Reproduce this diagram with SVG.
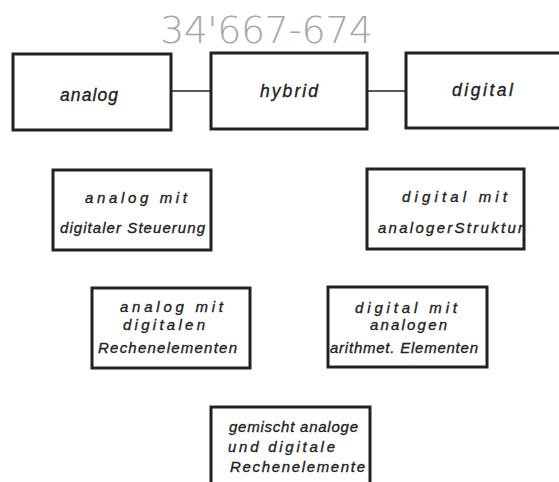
<svg xmlns="http://www.w3.org/2000/svg" width="559" height="482" viewBox="0 0 559 482">
<style>
.box{fill:#fff;stroke:#222;stroke-width:3}
.lbl{font-family:"Liberation Sans",Arial,sans-serif;font-style:italic;fill:#222;stroke:#222;stroke-width:0.35}
.big{font-size:17.5px}
.sm{font-size:15px}
.conn{stroke:#222;stroke-width:1.6;fill:none}
.note{font-family:"DejaVu Sans",sans-serif;font-size:38px;font-weight:300;fill:#a8a8a8}
</style>
<rect width="559" height="482" fill="#fff"/>
<text class="note" x="160" y="43" textLength="213" lengthAdjust="spacing">34'667-674</text>
<g id="connectors">
<line class="conn" x1="171" y1="91" x2="211" y2="91"/>
<line class="conn" x1="367" y1="91" x2="406" y2="91"/>
</g>
<g id="analog">
<rect class="box" x="13" y="54" width="158" height="76"/>
<text class="lbl big" x="60" y="101" textLength="58" lengthAdjust="spacing">analog</text>
</g>
<g id="hybrid">
<rect class="box" x="211" y="53" width="156" height="76"/>
<text class="lbl big" x="260" y="97" textLength="58" lengthAdjust="spacing">hybrid</text>
</g>
<g id="digital">
<rect class="box" x="406" y="53" width="160" height="75"/>
<text class="lbl big" x="452" y="96" textLength="61" lengthAdjust="spacing">digital</text>
</g>
<g id="analog-digitale-steuerung">
<rect class="box" x="53" y="170" width="158" height="80"/>
<text class="lbl sm" x="85" y="203" textLength="102" lengthAdjust="spacing">analog mit</text>
<text class="lbl sm" x="60" y="233" textLength="145" lengthAdjust="spacing">digitaler Steuerung</text>
</g>
<g id="digital-analoge-struktur">
<rect class="box" x="367" y="169" width="157" height="80"/>
<text class="lbl sm" x="402" y="202" textLength="105" lengthAdjust="spacing">digital mit</text>
<text class="lbl sm" x="378" y="233" textLength="145" lengthAdjust="spacing">analogerStruktur</text>
</g>
<g id="analog-digitale-rechenelemente">
<rect class="box" x="92" y="288" width="158" height="80"/>
<text class="lbl sm" x="120" y="312" textLength="103" lengthAdjust="spacing">analog mit</text>
<text class="lbl sm" x="123" y="330" textLength="82" lengthAdjust="spacing">digitalen</text>
<text class="lbl sm" x="98" y="353" textLength="139" lengthAdjust="spacing">Rechenelementen</text>
</g>
<g id="digital-analoge-elemente">
<rect class="box" x="328" y="287" width="159" height="80"/>
<text class="lbl sm" x="355" y="313" textLength="102" lengthAdjust="spacing">digital mit</text>
<text class="lbl sm" x="370" y="330" textLength="77" lengthAdjust="spacing">analogen</text>
<text class="lbl sm" x="330" y="353" textLength="148" lengthAdjust="spacing">arithmet. Elementen</text>
</g>
<g id="gemischt">
<rect class="box" x="211" y="407" width="159" height="90"/>
<text class="lbl sm" x="229" y="432" textLength="129" lengthAdjust="spacing">gemischt analoge</text>
<text class="lbl sm" x="228" y="452" textLength="107" lengthAdjust="spacing">und digitale</text>
<text class="lbl sm" x="230" y="472" textLength="135" lengthAdjust="spacing">Rechenelemente</text>
</g>
</svg>
